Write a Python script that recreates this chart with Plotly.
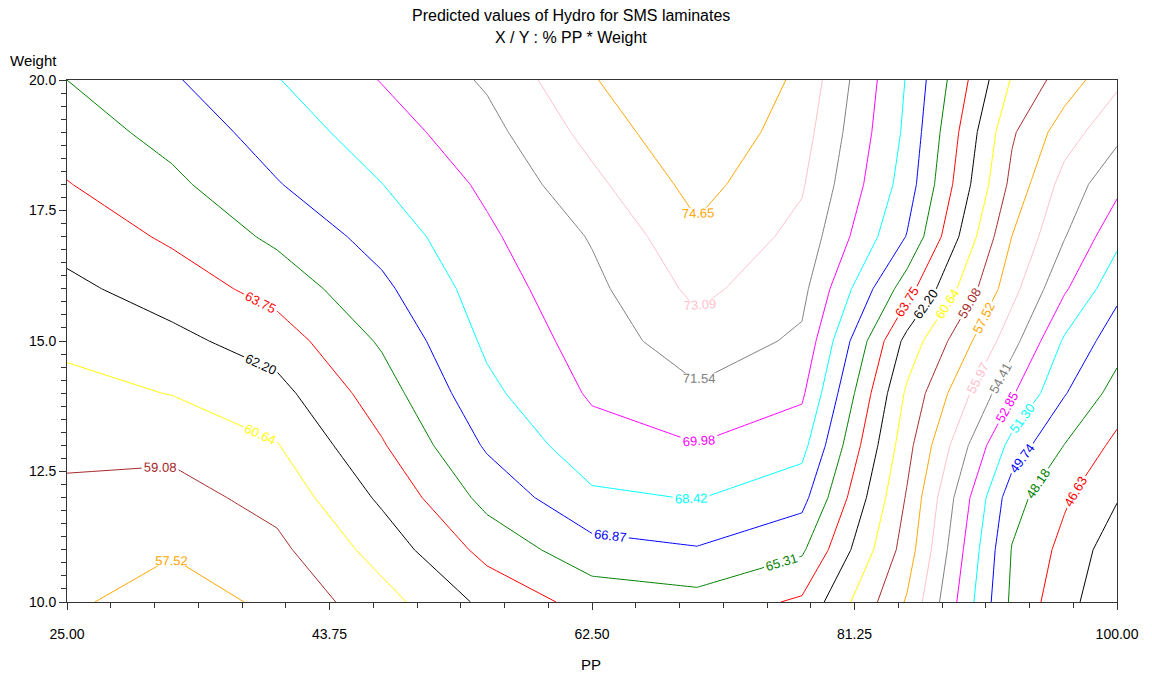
import plotly.graph_objects as go

# Grid of % PP (x) and Weight (y)
pp = [25, 32.5, 40, 47.5, 55, 62.5, 70, 77.5, 85, 92.5, 96.25, 100]
weight = [10, 11, 12, 13, 14, 15, 16, 17, 18, 19, 20]

# Predicted Hydro values, one list per weight level (ordered by pp)
hydro_w10 = [57.78, 56.80, 57.85, 60.05, 62.60, 64.35, 64.75, 63.50, 57.35, 47.86, 45.63, 43.74]
hydro_w11 = [58.29, 57.65, 58.70, 61.28, 64.26, 66.29, 66.75, 65.56, 58.34, 48.10, 46.17, 44.15]
hydro_w12 = [58.79, 58.50, 59.61, 62.48, 65.81, 68.14, 68.49, 67.41, 58.92, 48.80, 46.84, 45.18]
hydro_w13 = [59.41, 59.46, 60.56, 63.60, 67.08, 69.35, 69.92, 68.95, 59.61, 50.70, 48.14, 46.22]
hydro_w14 = [60.17, 60.69, 61.68, 64.57, 68.04, 70.18, 71.28, 70.25, 60.36, 53.04, 49.85, 47.54]
hydro_w15 = [60.97, 61.79, 62.95, 65.52, 68.71, 70.66, 72.48, 71.26, 61.66, 55.01, 51.07, 48.86]
hydro_w16 = [61.85, 62.91, 64.34, 66.53, 69.20, 71.13, 73.49, 72.00, 64.41, 56.49, 53.07, 50.17]
hydro_w17 = [62.75, 64.00, 65.64, 67.48, 69.70, 71.67, 74.35, 72.65, 66.79, 57.50, 54.49, 51.74]
hydro_w18 = [63.68, 64.96, 66.78, 68.40, 70.28, 72.68, 75.20, 73.25, 67.68, 58.64, 55.36, 53.28]
hydro_w19 = [64.50, 65.85, 67.58, 69.23, 71.01, 73.62, 76.05, 73.75, 68.08, 59.29, 56.71, 54.83]
hydro_w20 = [65.31, 66.70, 68.35, 70.05, 71.75, 74.50, 76.90, 74.24, 68.30, 60.50, 58.35, 56.30]

# Contour levels and their line colours
levels = [45.07, 46.63, 48.18, 49.74, 51.30, 52.85, 54.41, 55.97, 57.52, 59.08,
          60.64, 62.20, 63.75, 65.31, 66.87, 68.42, 69.98, 71.54, 73.09, 74.65]
level_colors = ["#000000", "#FF0000", "#008000", "#0000FF", "#00FFFF", "#FF00FF",
                "#808080", "#FFC0CB", "#FFA500", "#A52A2A", "#FFFF00"]

# Axis ticks
x_tickvals = [25, 43.75, 62.5, 81.25, 100]
x_ticktext = ["25.00", "43.75", "62.50", "81.25", "100.00"]
y_tickvals = [10, 12.5, 15, 17.5, 20]
y_ticktext = ["10.0", "12.5", "15.0", "17.5", "20.0"]

z = [hydro_w10, hydro_w11, hydro_w12, hydro_w13, hydro_w14, hydro_w15,
     hydro_w16, hydro_w17, hydro_w18, hydro_w19, hydro_w20]

FONT = "Liberation Sans, Arial, sans-serif"

fig = go.Figure()
for i, lvl in enumerate(levels):
    col = level_colors[i % len(level_colors)]
    fig.add_trace(go.Contour(
        x=pp, y=weight, z=z,
        autocontour=False,
        contours=dict(start=lvl, end=lvl, size=1, coloring="none",
                      showlabels=True, labelformat=".2f",
                      labelfont=dict(family=FONT, size=13, color=col)),
        line=dict(color=col, width=1, smoothing=0),
        showscale=False, hoverinfo="skip",
    ))

fig.update_layout(
    width=1152, height=676,
    margin=dict(l=67, r=35, t=80, b=74),
    paper_bgcolor="white", plot_bgcolor="white",
    showlegend=False,
    font=dict(family=FONT, size=14, color="black"),
    xaxis=dict(range=[25, 100], showgrid=False, zeroline=False,
               showline=True, linecolor="#333", linewidth=1, mirror=True,
               ticks="outside", ticklen=7, tickcolor="#333",
               tickvals=x_tickvals, ticktext=x_ticktext,
               ticklabelstandoff=12,
               tickfont=dict(family=FONT, size=14),
               minor=dict(ticks="outside", ticklen=5, tick0=25, dtick=3.125,
                          tickcolor="#333")),
    yaxis=dict(range=[10, 20], showgrid=False, zeroline=False,
               showline=True, linecolor="#333", linewidth=1, mirror=True,
               ticks="outside", ticklen=7, tickcolor="#333",
               tickvals=y_tickvals, ticktext=y_ticktext,
               tickfont=dict(family=FONT, size=14),
               minor=dict(ticks="outside", ticklen=5, tick0=10, dtick=0.25,
                          tickcolor="#333")),
    annotations=[
        dict(text="Predicted values of Hydro for SMS laminates", x=571, y=15,
             font=dict(family=FONT, size=16)),
        dict(text="X / Y : % PP * Weight", x=571, y=38,
             font=dict(family=FONT, size=16)),
        dict(text="Weight", x=33, y=61, font=dict(family=FONT, size=15)),
        dict(text="PP", x=591, y=664, font=dict(family=FONT, size=15)),
    ],
)

# Place the free text by pixel position, converted into paper coordinates
for a in fig.layout.annotations:
    a.x = (a.x - 67) / 1050.0
    a.y = (602 - a.y) / 522.0
    a.xref = "paper"
    a.yref = "paper"
    a.xanchor = "center"
    a.yanchor = "middle"
    a.showarrow = False

fig.write_html("out.html")
